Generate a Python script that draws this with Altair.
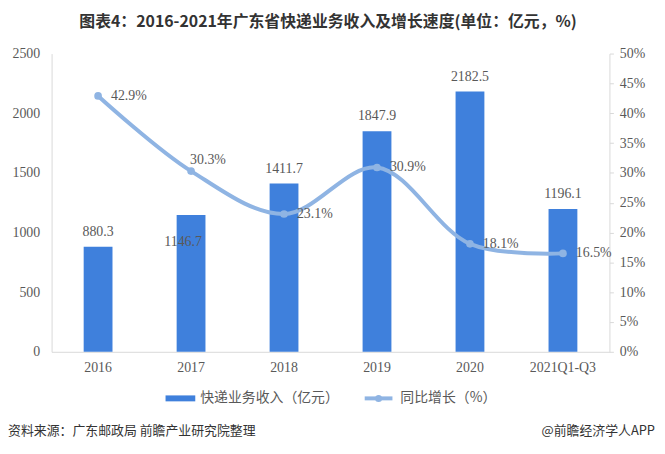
import altair as alt
import pandas as pd

years = ["2016", "2017", "2018", "2019", "2020", "2021Q1-Q3"]
revenue = [880.3, 1146.7, 1411.7, 1847.9, 2182.5, 1196.1]
growth = [42.9, 30.3, 23.1, 30.9, 18.1, 16.5]

title_text = "图表4：2016-2021年广东省快递业务收入及增长速度(单位：亿元，%)"
bar_name = "快递业务收入（亿元）"
line_name = "同比增长（%）"
source_text = "资料来源：广东邮政局 前瞻产业研究院整理"
brand_text = "@前瞻经济学人APP"

df = pd.DataFrame({"year": years, "revenue": revenue, "growth": growth})
df["rev_label"] = [f"{v:.1f}" for v in revenue]
df["gr_label"] = [f"{v:.1f}%" for v in growth]

BAR = "#3f80dc"
LINE = "#8fb4e3"
TXT = "#595959"
SERIF = "Liberation Serif"
CJK = "Noto Sans CJK SC"

x_enc = alt.X(
    "year:N", sort=years, title=None,
    scale=alt.Scale(paddingInner=0.69, paddingOuter=0.345),
    axis=alt.Axis(labelAngle=0, ticks=False, domainColor="#d9d9d9",
                  labelFont=SERIF, labelFontSize=14, labelColor=TXT, labelPadding=9),
)
y_left = alt.Y(
    "revenue:Q", title=None,
    scale=alt.Scale(domain=[0, 2500]),
    axis=alt.Axis(values=[0, 500, 1000, 1500, 2000, 2500], format="d", grid=False,
                  ticks=False, labelOverlap=False, labelFlush=False,
                  domainColor="#d9d9d9", labelFont=SERIF, labelFontSize=14,
                  labelColor=TXT, labelPadding=12),
)
y_right = alt.Y(
    "growth:Q", title=None,
    scale=alt.Scale(domain=[0, 50]),
    axis=alt.Axis(orient="right", values=list(range(0, 55, 5)), grid=False,
                  labelOverlap=False, labelFlush=False,
                  tickSize=4, tickColor="#d9d9d9", domainColor="#d9d9d9",
                  labelExpr="datum.value + '%'", labelFont=SERIF, labelFontSize=14,
                  labelColor=TXT, labelPadding=6),
)

base = alt.Chart(df)
bars = base.mark_bar(color=BAR).encode(x=x_enc, y=y_left)
bar_lab = base.transform_filter("datum.year != '2017'").mark_text(
    font=SERIF, fontSize=14, color=TXT, dy=-15, baseline="middle"
).encode(x=x_enc, y=y_left, text="rev_label:N")
bar_lab17 = base.transform_filter("datum.year == '2017'").mark_text(
    font=SERIF, fontSize=14, color=TXT, dx=-8, dy=27, baseline="middle"
).encode(x=x_enc, y=y_left, text="rev_label:N")
left = alt.layer(bars, bar_lab, bar_lab17)

line = base.mark_line(color=LINE, strokeWidth=4, interpolate="catmull-rom").encode(
    x=x_enc, y=y_right)
pts = base.mark_circle(color=LINE, size=60, opacity=1).encode(x=x_enc, y=y_right)
gr_lab = base.transform_filter("datum.year != '2017'").mark_text(
    font=SERIF, fontSize=14, color=TXT, align="left", dx=13, baseline="middle"
).encode(x=x_enc, y=y_right, text="gr_label:N")
gr_lab17 = base.transform_filter("datum.year == '2017'").mark_text(
    font=SERIF, fontSize=14, color=TXT, align="left", dx=-1, dy=-11, baseline="middle"
).encode(x=x_enc, y=y_right, text="gr_label:N")
right = alt.layer(line, pts, gr_lab, gr_lab17)

main = alt.layer(left, right).resolve_scale(y="independent")

one = pd.DataFrame({"k": [0]})
deco = alt.Chart(one)
title = deco.mark_text(font=CJK, fontSize=16, fontWeight="bold", color="#333333",
                       align="center", baseline="middle").encode(
    x=alt.value(279), y=alt.value(-32), text=alt.value(title_text))
leg_rect = deco.mark_rect(color=BAR).encode(
    x=alt.value(115), x2=alt.value(145), y=alt.value(345), y2=alt.value(351))
leg_txt1 = deco.mark_text(font=CJK, fontSize=14, color=TXT, align="left",
                          baseline="middle").encode(
    x=alt.value(150), y=alt.value(348), text=alt.value(bar_name))
leg_line = deco.mark_rule(color=LINE, strokeWidth=4).encode(
    x=alt.value(316), x2=alt.value(344), y=alt.value(348))
leg_pt = deco.mark_circle(color=LINE, size=50, opacity=1).encode(
    x=alt.value(330), y=alt.value(348))
leg_txt2 = deco.mark_text(font=CJK, fontSize=14, color=TXT, align="left",
                          baseline="middle").encode(
    x=alt.value(352), y=alt.value(348), text=alt.value(line_name))
src = deco.mark_text(font=CJK, fontSize=13, color="#333333", align="left",
                     baseline="middle").encode(
    x=alt.value(-44), y=alt.value(381), text=alt.value(source_text))
brand = deco.mark_text(font=CJK, fontSize=13, color="#333333", align="right",
                       baseline="middle").encode(
    x=alt.value(609), y=alt.value(381), text=alt.value(brand_text))

chart = alt.layer(
    main, title, leg_rect, leg_txt1, leg_line, leg_pt, leg_txt2, src, brand
).properties(
    width=563, height=301,
    autosize=alt.AutoSizeParams(type="none"),
    padding={"left": 44, "top": 44, "right": 48, "bottom": 86},
).configure_view(stroke=None)

chart.save("out.html", embed_options={"renderer": "svg", "actions": False})
